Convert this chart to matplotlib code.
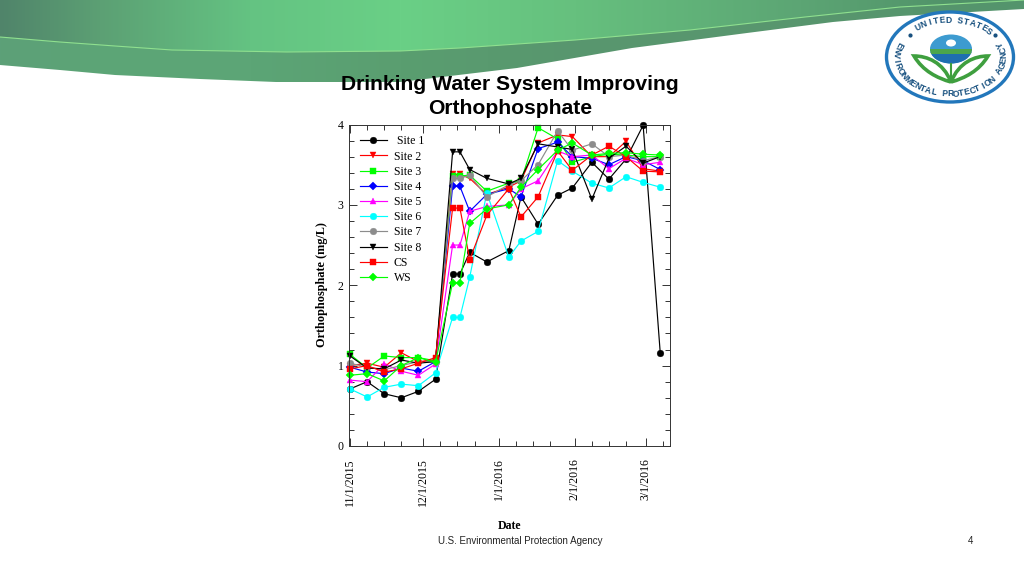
# Orthophosphate by site, slide recreation
import numpy as np
import pandas as pd
import matplotlib
matplotlib.use('Agg')
import matplotlib.pyplot as plt
import matplotlib.dates as mdates
from matplotlib.patches import Ellipse, PathPatch, Polygon
from matplotlib.path import Path

dates = ['2015-11-01', '2015-11-08', '2015-11-15', '2015-11-22', '2015-11-29', '2015-12-06',
         '2015-12-13', '2015-12-16', '2015-12-20', '2015-12-27', '2016-01-05', '2016-01-10',
         '2016-01-17', '2016-01-25', '2016-01-31', '2016-02-08', '2016-02-15', '2016-02-22',
         '2016-02-29', '2016-03-07']

site1 = [0.71, 0.80, 0.65, 0.60, 0.68, 0.83, 2.14, 2.14, 2.41, 2.29, 2.43, 3.10, 2.76, 3.12, 3.21, 3.53, 3.32, 3.57, 3.99, 1.16]
site2 = [1.00, 1.03, 0.98, 1.16, 1.05, 1.07, 3.38, 3.38, 3.33, 3.13, 3.22, 3.30, 3.77, 3.87, 3.85, 3.60, 3.60, 3.79, 3.45, 3.42]
site3 = [1.14, 0.97, 1.12, 1.10, 1.10, 1.06, 3.36, 3.36, 3.37, 3.17, 3.27, 3.30, 3.96, 3.82, 3.53, 3.60, 3.63, 3.62, 3.60, 3.60]
site4 = [0.98, 0.92, 0.90, 0.97, 0.93, 1.05, 3.23, 3.23, 2.92, 3.13, 3.20, 3.10, 3.70, 3.78, 3.60, 3.58, 3.50, 3.60, 3.55, 3.44]
site5 = [0.82, 0.80, 1.02, 0.93, 0.88, 1.02, 2.50, 2.50, 2.92, 2.98, 3.00, 3.20, 3.30, 3.67, 3.60, 3.62, 3.45, 3.58, 3.50, 3.53]
site6 = [0.71, 0.61, 0.73, 0.77, 0.75, 0.91, 1.60, 1.60, 2.10, 3.15, 2.35, 2.55, 2.67, 3.55, 3.42, 3.27, 3.21, 3.35, 3.28, 3.22]
site7 = [1.03, 0.98, 0.95, 1.00, 1.05, 1.05, 3.33, 3.33, 3.37, 3.10, 3.25, 3.30, 3.50, 3.92, 3.68, 3.76, 3.60, 3.62, 3.55, 3.60]
site8 = [1.12, 0.97, 0.96, 1.07, 1.03, 1.05, 3.66, 3.66, 3.44, 3.33, 3.26, 3.33, 3.76, 3.72, 3.69, 3.07, 3.58, 3.73, 3.52, 3.60]
cs = [0.96, 1.00, 0.92, 0.96, 1.03, 1.10, 2.96, 2.96, 2.32, 2.87, 3.20, 2.85, 3.10, 3.67, 3.43, 3.62, 3.73, 3.60, 3.42, 3.41]
ws = [0.88, 0.90, 0.81, 1.00, 1.10, 1.04, 2.03, 2.03, 2.77, 2.95, 3.00, 3.22, 3.44, 3.68, 3.77, 3.62, 3.64, 3.65, 3.63, 3.62]

labels = [' Site 1', 'Site 2', 'Site 3', 'Site 4', 'Site 5', 'Site 6', 'Site 7', 'Site 8', 'CS', 'WS']
series = [site1, site2, site3, site4, site5, site6, site7, site8, cs, ws]
colors = ['black', 'red', 'lime', 'blue', 'magenta', 'cyan', '#8c8c8c', 'black', 'red', 'lime']
markers = ['o', 'v', 's', 'D', '^', 'o', 'o', 'v', 's', 'D']
marker_size = {'o': 4.8, 'v': 5.0, '^': 5.0, 's': 4.8, 'D': 3.9}

tick_dates = ['2015-11-01', '2015-12-01', '2016-01-01', '2016-02-01', '2016-03-01']
tick_labels = ['11/1/2015', '12/1/2015', '1/1/2016', '2/1/2016', '3/1/2016']

W, H = 1024, 576
fig = plt.figure(figsize=(10.24, 5.76), dpi=100, facecolor='white')

# slide background, in pixel coords
bg = fig.add_axes([0, 0, 1, 1])
bg.set_xlim(0, W)
bg.set_ylim(H, 0)
bg.axis('off')

top_x = [0, 60, 115, 172, 287, 400, 460, 575, 690, 805, 900, 1024]
line_y = [37, 42, 46, 50, 52, 51, 48, 40, 30, 17, 7, 0]
low_x = [0, 60, 115, 200, 276, 400, 517, 632, 747, 833, 900, 1024]
low_y = [65, 70, 75, 79, 82, 82, 68, 48, 33, 22, 16, 9]

grad_x = [0, 100, 250, 400, 575, 800, 1024]
upper_rgb = [(80, 132, 106), (92, 160, 116), (100, 195, 130), (106, 208, 134), (102, 192, 126), (92, 165, 116), (76, 138, 100)]
lower_rgb = [(92, 160, 120), (92, 165, 118), (92, 165, 118), (90, 158, 112), (88, 150, 110), (88, 150, 110), (84, 148, 108)]
xs = np.arange(W)
upper = np.dstack([np.interp(xs, grad_x, c) for c in zip(*upper_rgb)]) / 255
lower = np.dstack([np.interp(xs, grad_x, c) for c in zip(*lower_rgb)]) / 255

verts = list(zip(low_x, low_y)) + [(W, 0), (0, 0)]
im = bg.imshow(lower, extent=[0, W, H, 0], aspect='auto', zorder=1)
im.set_clip_path(Polygon(verts, closed=True, transform=bg.transData))
verts = list(zip(top_x, line_y)) + [(W, 0), (0, 0)]
im = bg.imshow(upper, extent=[0, W, H, 0], aspect='auto', zorder=2)
im.set_clip_path(Polygon(verts, closed=True, transform=bg.transData))
bg.plot(top_x, line_y, color='#8fe08f', lw=0.8, zorder=3)
bg.set_xlim(0, W)
bg.set_ylim(H, 0)

# EPA seal
cx, cy = 950, 57
bg.add_patch(Ellipse((cx, cy), 127, 90, fc='white', ec='#2277bb', lw=2.4, zorder=4))
bg.add_patch(Ellipse((cx + 1, 49), 42, 29, fc='#3d9bd0', ec='none', zorder=4))
bg.add_patch(Ellipse((cx + 1, 43), 10, 7, fc='white', ec='none', zorder=5))
band = Ellipse((cx + 1, 49), 42, 29, fc='#1f6fb0', ec='none', zorder=5)
bg.add_patch(band)
band.set_clip_path(Polygon([(920, 52), (985, 52), (985, 70), (920, 70)], transform=bg.transData))
green = Ellipse((cx + 1, 49), 42, 29, fc='#4ca64c', ec='none', zorder=6)
bg.add_patch(green)
green.set_clip_path(Polygon([(920, 49), (985, 49), (985, 54), (920, 54)], transform=bg.transData))
for side in (-1, 1):
    leaf = Path([(cx + 1, 82), (cx + 1 + side * 8, 62), (cx + 1 + side * 24, 56), (cx + 1 + side * 37, 56),
                 (cx + 1 + side * 28, 71), (cx + 1 + side * 14, 78), (cx + 1, 82)],
                [Path.MOVETO, Path.CURVE4, Path.CURVE4, Path.CURVE4, Path.CURVE4, Path.CURVE4, Path.CURVE4])
    bg.add_patch(PathPatch(leaf, fc='white', ec='#3f9f3f', lw=2.6, zorder=6))
bg.plot([cx + 1, cx + 1], [64, 82], color='#3f9f3f', lw=1.5, zorder=7)


def arc_text(s, a0, a1, rx=54, ry=37):
    # even spacing along the ellipse, not in angle
    t = np.radians(np.linspace(a0, a1, 400))
    dist = np.r_[0, np.cumsum(np.hypot(np.diff(rx * np.cos(t)), np.diff(ry * np.sin(t))))]
    sign = 1 if a1 > a0 else -1
    for ch, d in zip(s, np.linspace(0, dist[-1], len(s))):
        a = np.interp(d, dist, t)
        rot = np.degrees(np.arctan2(sign * ry * np.cos(a), -sign * rx * np.sin(a)))
        bg.text(cx + rx * np.cos(a), cy - ry * np.sin(a), ch, fontsize=6.2, fontweight='bold',
                family='Liberation Sans', color='#17507f', rotation=rot, rotation_mode='anchor',
                ha='center', va='center', zorder=8)


arc_text('UNITED STATES', 126, 44)
arc_text('ENVIRONMENTAL PROTECTION AGENCY', 160, 380)
bg.plot([cx - 40, cx + 45], [cy - 22, cy - 22], ls='none', marker='o', ms=2, color='#17507f', zorder=8)

# chart
ax = fig.add_axes([349 / W, 1 - 446 / H, 321 / W, 321.5 / H])
x_values = pd.to_datetime(dates)
for y, c, m, lab in zip(series, colors, markers, labels):
    ax.plot(x_values, y, color=c, marker=m, ms=marker_size[m], lw=0.85, mew=0.3, label=lab, clip_on=False)

ax.set_ylim(0, 4)
ax.set_xlim(pd.Timestamp('2015-10-31 14:00'), pd.Timestamp('2016-03-11'))
ax.set_yticks([0, 1, 2, 3, 4])
ax.set_yticks(np.arange(0, 4.01, 0.2), minor=True)
ax.set_xticks(pd.to_datetime(tick_dates))
ax.set_xticklabels(tick_labels, rotation=90, family='Liberation Serif', fontsize=8.5)
ax.xaxis.set_minor_locator(mdates.DayLocator(bymonthday=[8, 15, 22]))
ax.tick_params(which='major', direction='in', length=6, width=0.7, top=True, right=True, color='#333333', pad=9)
ax.tick_params(which='minor', direction='in', length=3.5, width=0.7, top=True, right=True, color='#333333')
ax.tick_params(axis='y', pad=4)
for lab in ax.get_yticklabels():
    lab.set_family('Liberation Serif')
    lab.set_fontsize(8.5)
for s in ax.spines.values():
    s.set_linewidth(0.7)
    s.set_color('#333333')

ax.legend(loc='upper left', bbox_to_anchor=(0.007, 0.992), frameon=False, handlelength=2.3, handletextpad=0.62,
          labelspacing=0.27, borderpad=0.2, prop={'family': 'Liberation Serif', 'size': 8.5})

# texts, placed as on the slide
bg.text(510, 84, 'Drinking Water System Improving', ha='center', va='center', family='Liberation Sans',
        fontweight='bold', fontsize=15.2, zorder=9)
bg.text(510, 109, 'Orthophosphate', ha='center', va='center', family='Liberation Sans',
        fontweight='bold', fontsize=15.2, zorder=9)
bg.text(322, 285, 'Orthophosphate (mg/L)', rotation=90, ha='center', va='center', family='Liberation Serif',
        fontweight='bold', fontsize=8.8)
bg.text(509, 526, 'Date', ha='center', va='center', family='Liberation Serif', fontweight='bold', fontsize=8.5)
bg.text(520, 541, 'U.S. Environmental Protection Agency', ha='center', va='center', family='Liberation Sans',
        fontsize=7, color='#222222')
bg.text(971, 541, '4', ha='center', va='center', family='Liberation Sans', fontsize=7, color='#222222')

plt.savefig('out.png', dpi=100)
